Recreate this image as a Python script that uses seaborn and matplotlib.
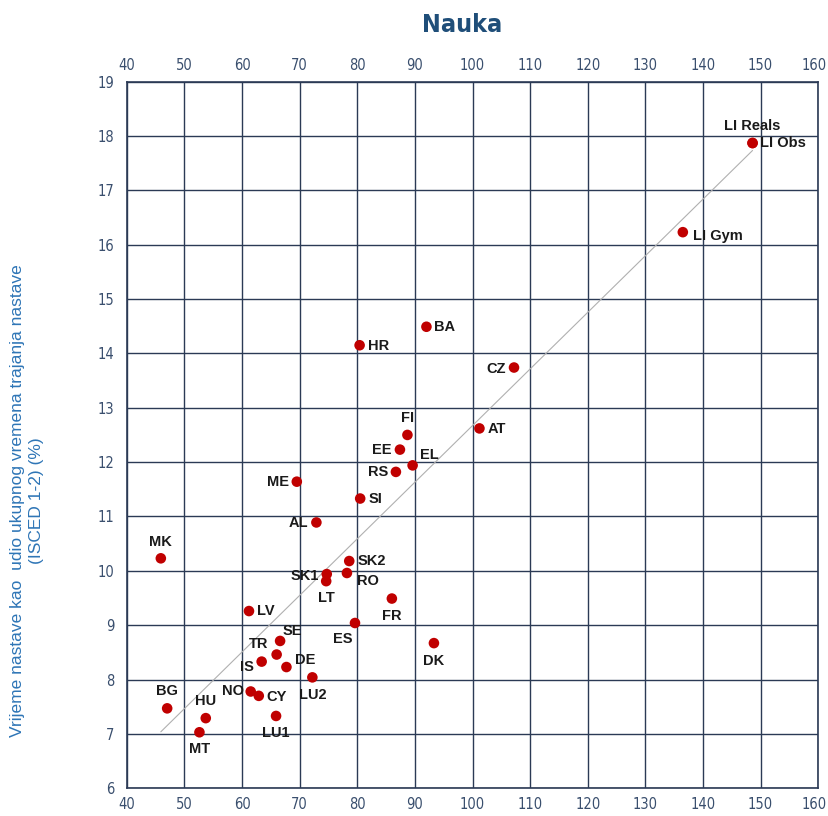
import matplotlib
matplotlib.use("Agg")
import matplotlib.pyplot as plt
import matplotlib.transforms as mtransforms
from matplotlib import font_manager
import seaborn as sns
import numpy as np
import pandas as pd

# values
countries = ["MK", "BG", "HU", "MT", "LV", "SE", "TR", "IS", "DE", "NO", "CY",
             "LU1", "LU2", "ES", "FR", "DK", "SK2", "RO", "SK1", "LT", "AL",
             "ME", "SI", "RS", "EL", "EE", "FI", "AT", "CZ", "HR", "BA",
             "LI Gym", "LI Obs", "LI Reals"]
hours = [45.9, 47.0, 53.7, 52.6, 61.2, 66.6, 66.0, 63.4, 67.7, 61.5, 62.9,
         65.9, 72.2, 79.6, 86.0, 93.3, 78.6, 78.2, 74.7, 74.6, 72.9,
         69.5, 80.5, 86.7, 89.6, 87.4, 88.7, 101.2, 107.2, 80.4, 92.0,
         136.5, 148.6, 148.6]
share = [10.23, 7.47, 7.29, 7.03, 9.26, 8.71, 8.46, 8.33, 8.23, 7.78, 7.70,
         7.33, 8.04, 9.04, 9.49, 8.67, 10.18, 9.96, 9.94, 9.81, 10.89,
         11.64, 11.33, 11.82, 11.94, 12.23, 12.50, 12.62, 13.74, 14.15, 14.49,
         16.23, 17.87, 17.87]

df = pd.DataFrame({"country": countries, "hours": hours, "share": share})

# label placement: (dx px, dy px, ha)  dy positive = up
label_pos = {
    "MK": (0, 16, "center"), "BG": (0, 17, "center"), "HU": (0, 17, "center"),
    "MT": (0, -17, "center"), "LV": (8, 0, "left"), "SE": (2, 10, "left"),
    "TR": (-18, 11, "center"), "IS": (-8, -5, "right"), "DE": (9, 7, "left"),
    "NO": (-7, 0, "right"), "CY": (8, -1, "left"), "LU1": (0, -17, "center"),
    "LU2": (0, -18, "center"), "ES": (-12, -16, "center"), "FR": (0, -17, "center"),
    "DK": (0, -18, "center"), "SK2": (8, 0, "left"), "RO": (10, -8, "left"),
    "SK1": (-8, -2, "right"), "LT": (0, -17, "center"), "AL": (-8, -1, "right"),
    "ME": (-8, 0, "right"), "SI": (8, 0, "left"), "RS": (-8, 0, "right"),
    "EL": (7, 10, "left"), "EE": (-8, 0, "right"), "FI": (0, 17, "center"),
    "AT": (8, -1, "left"), "CZ": (-8, -1, "right"), "HR": (8, -1, "left"),
    "BA": (8, 0, "left"), "LI Gym": (10, -4, "left"), "LI Obs": (7, 0, "left"),
    "LI Reals": (0, 17, "center"),
}

sns.set_style("white")
plt.rcParams["font.family"] = ["Liberation Sans", "DejaVu Sans"]

# narrow face for ticks/title if one is installed
installed = {f.name for f in font_manager.fontManager.ttflist}
dejavu_cond = any(f.name == "DejaVu Sans" and f.stretch == "condensed"
                  for f in font_manager.fontManager.ttflist)
if "Liberation Sans Narrow" in installed:
    narrow = dict(family="Liberation Sans Narrow")
    tick_size = 12
elif dejavu_cond:
    narrow = dict(family="DejaVu Sans", stretch="condensed")
    tick_size = 10.5
else:
    narrow = dict(family="Liberation Sans")
    tick_size = 10.5

fig = plt.figure(figsize=(8.29, 8.16), dpi=100)
ax = fig.add_axes([0.153, 0.034, 0.834, 0.866])

grid_col = "#2b3a55"
tick_col = "#3a4f6e"

sns.regplot(data=df, x="hours", y="share", scatter=False, ci=None, truncate=True,
            line_kws={"color": "#b0b0b0", "lw": 0.8, "zorder": 2}, ax=ax)
sns.scatterplot(data=df, x="hours", y="share", color="#c00000", s=58,
                edgecolor="none", zorder=3, ax=ax)

for c, x, y in zip(countries, hours, share):
    dx, dy, ha = label_pos[c]
    ax.annotate(c, (x, y), xytext=(dx, dy), textcoords="offset pixels",
                ha=ha, va="center", fontsize=10.5, fontweight="bold",
                color="#1a1a1a", zorder=4)

ax.set_xlim(40, 160)
ax.set_ylim(6, 19)
ax.set_xticks(np.arange(40, 161, 10))
ax.set_yticks(np.arange(6, 20, 1))
ax.grid(True, color=grid_col, lw=1)
ax.set_axisbelow(True)
for s in ax.spines.values():
    s.set_color(grid_col)
    s.set_linewidth(1.2)

ax.tick_params(axis="x", which="both", top=False, bottom=False, length=0,
               labeltop=True, labelbottom=True, colors=tick_col, pad=6)
ax.tick_params(axis="y", left=False, length=0, colors=tick_col, pad=9)
for lab in ax.get_xticklabels() + ax.get_yticklabels():
    lab.set_fontsize(tick_size)
    lab.set_fontfamily(narrow["family"])
    if "stretch" in narrow:
        lab.set_fontstretch(narrow["stretch"])

# keep the last x labels ("160") inside the canvas
shift = mtransforms.ScaledTranslation(-4 / 100, 0, fig.dpi_scale_trans)
last = ax.xaxis.get_major_ticks()[-1]
for lab in (last.label1, last.label2):
    lab.set_transform(lab.get_transform() + shift)

ax.set_xlabel("")
ax.set_ylabel("")
fig.text(0.033, 0.387,
         "Vrijeme nastave kao  udio ukupnog vremena trajanja nastave\n(ISCED 1-2) (%)",
         rotation=90, ha="center", va="center", multialignment="center",
         color="#2e75b6", fontsize=12.5, linespacing=1.35)
fig.text(0.557, 0.969, "Nauka", ha="center", va="center", fontsize=18,
         fontweight="bold", color="#1f4e79", **narrow)

fig.savefig("out.png", dpi=100)
